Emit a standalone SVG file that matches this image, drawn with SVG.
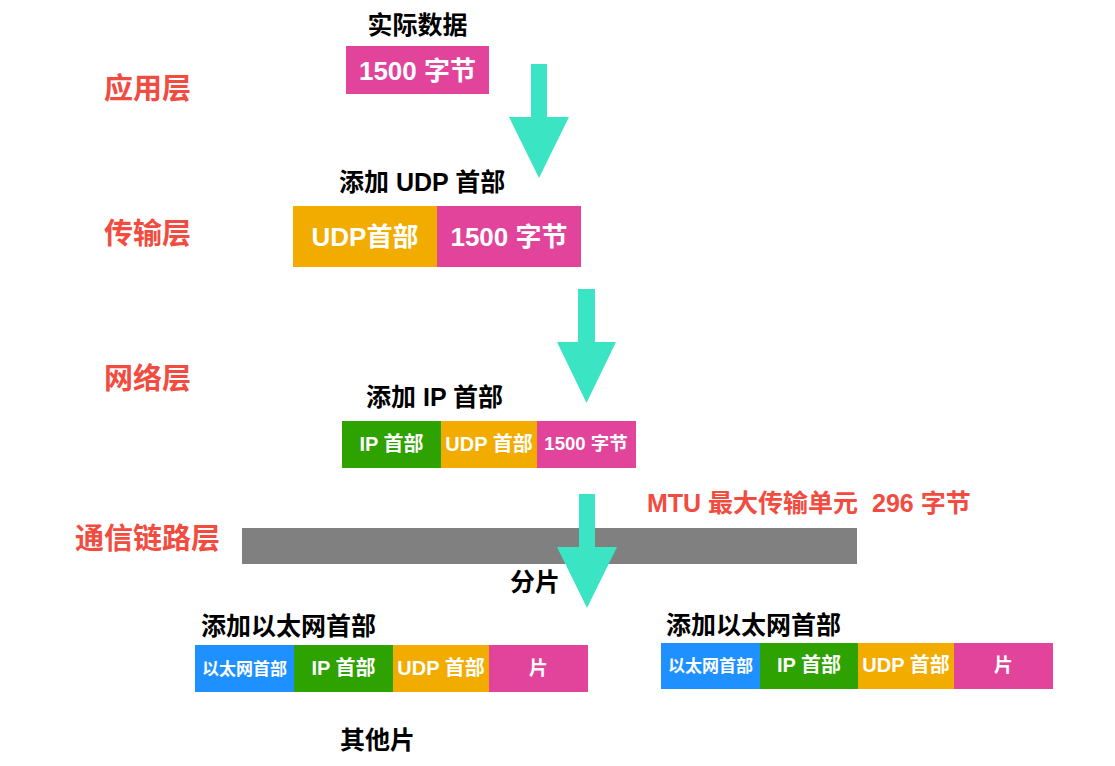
<svg xmlns="http://www.w3.org/2000/svg" width="1115" height="766" viewBox="0 0 1115 766">
<style>
text{font-family:"Liberation Sans","Noto Sans CJK SC",sans-serif;font-weight:bold}
.layer{fill:#F24B3F;font-size:29px}
.lbl{fill:#000;font-size:25px}
.in{fill:#fff;text-anchor:middle}
.pink{fill:#E1449A}.orange{fill:#F2AC00}.green{fill:#2EA200}.blue{fill:#1E90FF}
.arrow{fill:#3BE5C4}
</style>
<rect width="1115" height="766" fill="#fff"/>
<g id="layers">
<text class="layer" x="104" y="99">应用层</text>
<text class="layer" x="104" y="244">传输层</text>
<text class="layer" x="104" y="389">网络层</text>
<text class="layer" x="75" y="549">通信链路层</text>
</g>
<g id="app">
<text class="lbl" x="417.5" y="34" text-anchor="middle">实际数据</text>
<rect class="pink" x="346" y="46" width="143" height="48"/>
<text class="in" x="417.5" y="80" font-size="26">1500 字节</text>
</g>
<g id="transport">
<text class="lbl" x="339" y="191">添加 UDP 首部</text>
<rect class="orange" x="293" y="206" width="144" height="61"/>
<rect class="pink" x="437" y="206" width="144" height="61"/>
<text class="in" x="365" y="246" font-size="26">UDP首部</text>
<text class="in" x="509" y="246" font-size="26">1500 字节</text>
</g>
<g id="network">
<text class="lbl" x="366" y="406">添加 IP 首部</text>
<rect class="green" x="342" y="421" width="99" height="47"/>
<rect class="orange" x="441" y="421" width="96" height="47"/>
<rect class="pink" x="537" y="421" width="99" height="47"/>
<text class="in" x="391.5" y="451" font-size="20">IP 首部</text>
<text class="in" x="489" y="451" font-size="20">UDP 首部</text>
<text class="in" x="586" y="450" font-size="18.5">1500 字节</text>
</g>
<g id="link">
<rect x="242" y="528" width="615" height="36" fill="#808080"/>
<text x="647" y="512" fill="#F24B3F" font-size="25" xml:space="preserve">MTU 最大传输单元  296 字节</text>
<text class="lbl" x="510" y="591">分片</text>
</g>
<g id="frame-left">
<text class="lbl" x="201" y="635">添加以太网首部</text>
<rect class="blue" x="195" y="645" width="99" height="47"/>
<rect class="green" x="294" y="645" width="99" height="47"/>
<rect class="orange" x="393" y="645" width="96" height="47"/>
<rect class="pink" x="489" y="645" width="99" height="47"/>
<text class="in" x="244.5" y="675" font-size="17">以太网首部</text>
<text class="in" x="343.5" y="675" font-size="20">IP 首部</text>
<text class="in" x="441" y="675" font-size="20">UDP 首部</text>
<text class="in" x="538.5" y="675" font-size="19">片</text>
</g>
<g id="frame-right">
<text class="lbl" x="666" y="634">添加以太网首部</text>
<rect class="blue" x="661" y="643" width="99" height="46"/>
<rect class="green" x="760" y="643" width="98" height="46"/>
<rect class="orange" x="858" y="643" width="96" height="46"/>
<rect class="pink" x="954" y="643" width="99" height="46"/>
<text class="in" x="710.5" y="672" font-size="17">以太网首部</text>
<text class="in" x="809" y="672" font-size="20">IP 首部</text>
<text class="in" x="906" y="672" font-size="20">UDP 首部</text>
<text class="in" x="1003.5" y="672" font-size="19">片</text>
</g>
<g id="other">
<text class="lbl" x="340" y="749">其他片</text>
</g>
<g id="connectors">
<polygon class="arrow" points="531,64 547,64 547,117 569,117 539,178 509,117 531,117"/>
<polygon class="arrow" points="578,289 595,289 595,342 616,342 586.5,403 557,342 578,342"/>
<polygon class="arrow" points="579,494 595,494 595,547 617,547 587,608 557,547 579,547"/>
</g>
</svg>
